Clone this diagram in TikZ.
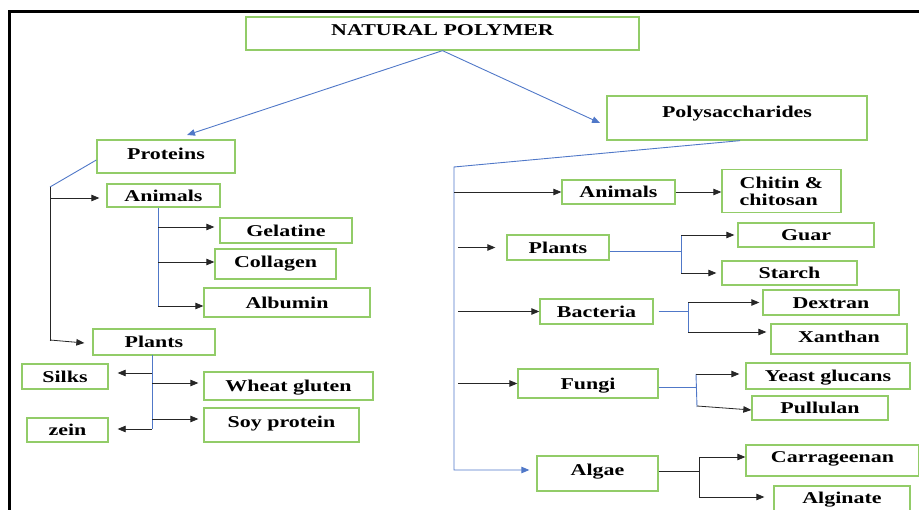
\documentclass[tikz,border=0pt]{standalone}
\usepackage{fontspec}
\setmainfont[FakeStretch=1.33]{Liberation Serif}
\usetikzlibrary{arrows.meta}
\definecolor{boxgreen}{RGB}{146,204,104}
\definecolor{wblue}{RGB}{80,120,200}
\newcommand\up[2]{\raisebox{#1}[\height][\depth]{#2}}
\tikzset{
  boxb/.style={draw=boxgreen, line width=1.3pt, inner sep=0pt, font=\fontsize{16.5}{17}\selectfont\bfseries},
  box/.style={boxb, text height=15pt, text depth=3pt},
  blk/.style={draw=black!85, line width=0.8pt},
  arr/.style={blk, -{Triangle[length=8pt,width=6.5pt]}},
  bl/.style={draw=wblue, line width=0.9pt},
  barr/.style={bl, -{Triangle[length=8pt,width=6.5pt]}},
}
\begin{document}
\begin{tikzpicture}[x=1pt,y=-1pt]
\path[use as bounding box] (0,0) rectangle (919,510);
\clip (0,0) rectangle (919,510);
\draw[line width=3pt] (9,512) -- (9,12) -- (919,12);

% nodes
\node[box, minimum width=393, minimum height=33] (np) at (442.5,33.5) {\up{4pt}{NATURAL POLYMER}};
\node[box, minimum width=260, minimum height=44] (poly) at (737,118) {\up{6pt}{Polysaccharides}};
\node[box, minimum width=138, minimum height=33] (prot) at (166,156.5) {\up{3pt}{Proteins}};
\node[box, minimum width=113, minimum height=23] (la) at (163.5,195.5) {Animals};
\node[box, minimum width=132, minimum height=25] (gel) at (286,230.5) {Gelatine};
\node[box, minimum width=121, minimum height=30] (col) at (275.5,264) {\up{2pt}{Collagen}};
\node[box, minimum width=166, minimum height=29] (alb) at (287,302.5) {Albumin};
\node[box, minimum width=122, minimum height=26] (lp) at (154,342) {Plants};
\node[box, minimum width=86, minimum height=25] (silk) at (65,376.5) {Silks};
\node[box, minimum width=169, minimum height=28] (wheat) at (288.5,386) {Wheat gluten};
\node[box, minimum width=81, minimum height=24] (zein) at (67.5,430) {zein};
\node[box, minimum width=155, minimum height=34] (soy) at (281.5,425) {\up{3pt}{Soy protein}};

\node[box, minimum width=113, minimum height=24] (ra) at (618.5,192) {Animals};
\node[boxb, minimum width=119, minimum height=43, align=left] (chit) at (781.5,191) {Chitin \&\\chitosan};
\node[box, minimum width=102, minimum height=25] (rp) at (558,247.5) {Plants};
\node[box, minimum width=136, minimum height=24] (guar) at (806,235) {Guar};
\node[box, minimum width=135, minimum height=24] (starch) at (789.5,273) {Starch};
\node[box, minimum width=113, minimum height=25] (bact) at (596.5,311.5) {Bacteria};
\node[box, minimum width=136, minimum height=25] (dext) at (831,302.5) {Dextran};
\node[box, minimum width=136, minimum height=30] (xan) at (839,339) {\up{2pt}{Xanthan}};
\node[box, minimum width=140, minimum height=29] (fungi) at (588,383.5) {Fungi};
\node[box, minimum width=164, minimum height=26] (yeast) at (828,376) {Yeast glucans};
\node[box, minimum width=136, minimum height=24] (pull) at (820,408) {Pullulan};
\node[box, minimum width=121, minimum height=35] (algae) at (597.5,473.5) {\up{4pt}{Algae}};
\node[box, minimum width=173, minimum height=31] (carr) at (832.5,460.5) {\up{4pt}{Carrageenan}};
\node[box, minimum width=136, minimum height=28] (algin) at (842,500) {\up{2pt}{Alginate}};

% top connectors
\coordinate (pt) at (187,135);
\coordinate (st) at (600,123);
\draw[barr] (np.south) -- (pt);
\draw[barr] (np.south) -- (st);

% polysaccharides trunk
\coordinate (tt) at (454,167);
\coordinate (tk) at (458,0);
\draw[barr] ([xshift=3pt]poly.south) -- (tt) -- (454,470) -- ([xshift=-7pt,yshift=3.5pt]algae.west);
\draw[arr] (454,192) -- (ra.west);
\draw[arr] (tk |- rp.west) -- ([xshift=-11pt]rp.west);
\draw[arr] (tk |- bact.west) -- (bact.west);
\draw[arr] (tk |- fungi.west) -- (fungi.west);

% animals -> chitin
\draw[arr] (ra.east) -- (chit.west |- ra.east);

% plants -> guar, starch
\coordinate (rj) at (681,0);
\draw[bl] ([yshift=-4pt]rp.east) -- (rj |- 0,251.5);
\draw[bl] (rj |- guar.west) -- (rj |- starch.west);
\draw[arr] (rj |- guar.west) -- ([xshift=-3pt]guar.west);
\draw[arr] (rj |- starch.west) -- ([xshift=-5pt]starch.west);

% bacteria
\coordinate (bj) at (688,0);
\draw[bl] ([xshift=5pt]bact.east) -- (bj |- bact.east);
\draw[bl] (bj |- dext.west) -- (bj |- 0,332);
\draw[arr] (bj |- dext.west) -- ([xshift=-3pt]dext.west);
\draw[arr] (bj |- 0,332) -- ([xshift=-4pt,yshift=7pt]xan.west);

% fungi
\coordinate (fj) at (696,0);
\draw[bl] ([yshift=-3.5pt]fungi.east) -- (fj |- 0,387);
\draw[bl] (696,374) -- (697,407);
\draw[arr] (696,374) -- ([xshift=-6pt,yshift=2pt]yeast.west);
\draw[arr] (697,406) -- ([yshift=-2pt]pull.west);

% algae
\coordinate (aj) at (699,0);
\draw[blk] ([yshift=2.5pt]algae.east) -- (aj |- 0,471);
\draw[blk] (699,457) -- (699,497);
\draw[arr] (699,457) -- ([yshift=3.5pt]carr.west);
\draw[arr] (699,497) -- ([xshift=-9pt,yshift=3pt]algin.west);

% proteins
\coordinate (pj) at (50,187);
\draw[bl] ([yshift=-3.5pt]prot.west) -- (pj);
\draw[blk] (pj) -- (50,341);
\draw[arr] (50,198) -- ([xshift=-7pt,yshift=-2.5pt]la.west);
\draw[arr] (50,340) -- ([xshift=-8pt,yshift=-1pt]lp.west);

% left animals
\coordinate (aa) at (158,208);
\draw[bl] (aa) -- (158,307);
\draw[arr] (158,227) -- ([xshift=-5pt,yshift=3.5pt]gel.west);
\draw[arr] (158,262) -- ([yshift=2pt]col.west);
\draw[arr] (158,306) -- ([yshift=-3.5pt]alb.west);

% left plants
\coordinate (pp) at (152,355);
\draw[bl] (pp) -- (152,429);
\draw[arr] (152,373) -- ([xshift=9pt,yshift=3.5pt]silk.east);
\draw[arr] (152,383) -- ([xshift=-5pt,yshift=3pt]wheat.west);
\draw[arr] (152,419) -- ([xshift=-5pt,yshift=6pt]soy.west);
\draw[arr] (152,429) -- ([xshift=9pt,yshift=1pt]zein.east);
\end{tikzpicture}
\end{document}
